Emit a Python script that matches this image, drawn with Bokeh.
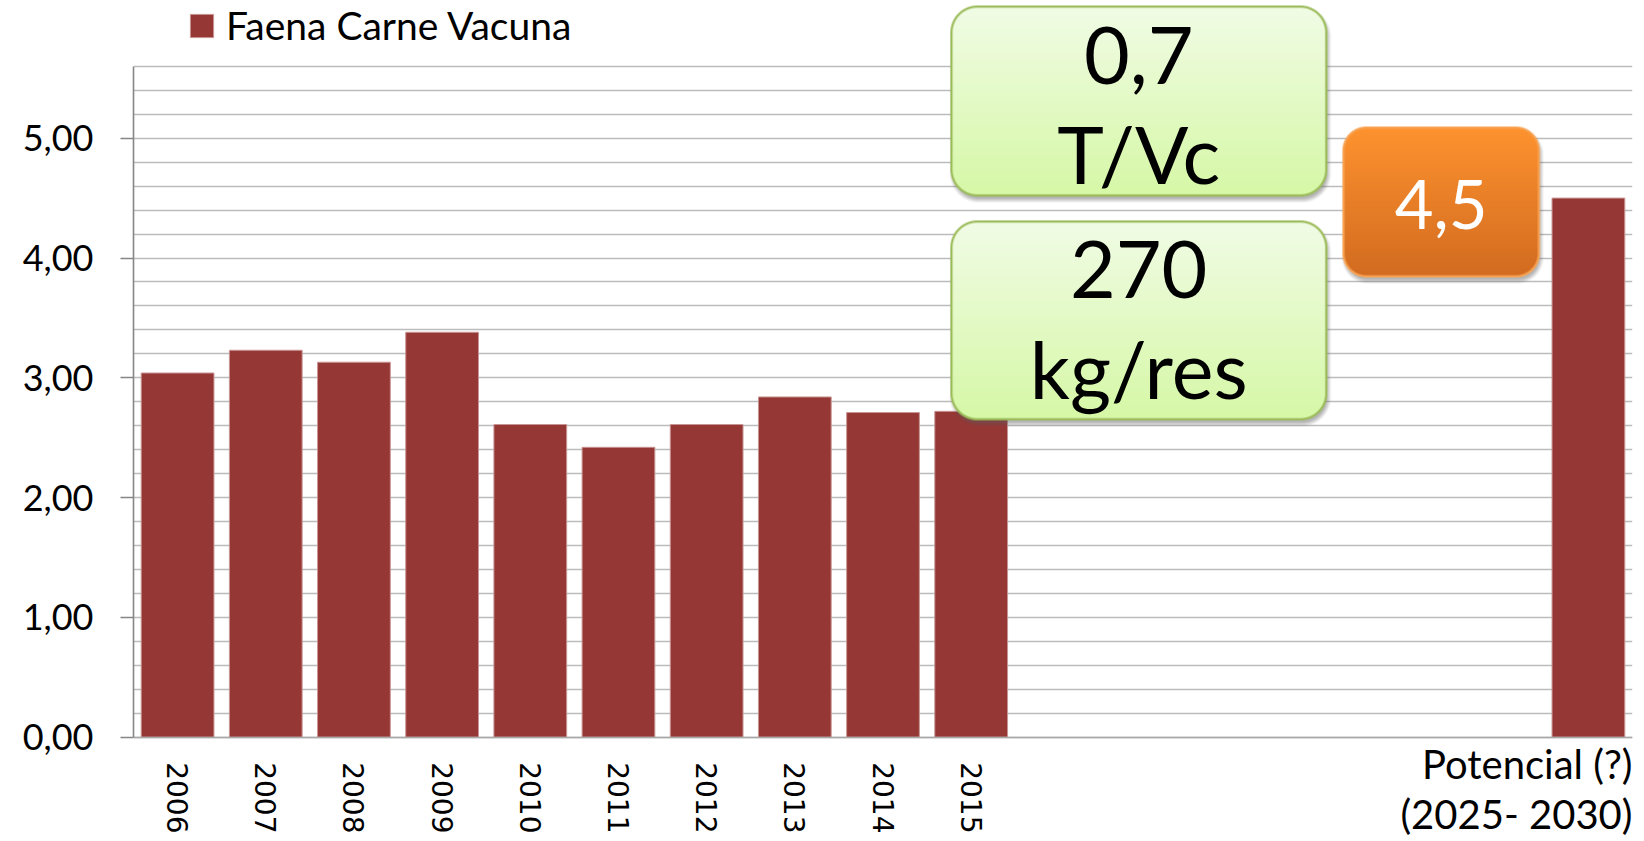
import numpy as np
from bokeh.plotting import figure
from bokeh.models import (FactorRange, Range1d, FixedTicker, CustomJSTickFormatter,
                          Legend, ColumnDataSource)
from bokeh.core.properties import value
from bokeh.embed import file_html
from bokeh.resources import INLINE

# ---------------- data ----------------
years = ["2006", "2007", "2008", "2009", "2010", "2011", "2012", "2013", "2014", "2015"]
faena = [3.04, 3.23, 3.13, 3.38, 2.61, 2.42, 2.61, 2.84, 2.71, 2.72]
gap_slots = ["gap1", "gap2", "gap3", "gap4", "gap5", "gap6"]
potencial_cat = "Potencial"
potencial_val = 4.50
potencial_label = "Potencial (?)\n(2025- 2030)"
series_name = "Faena Carne Vacuna"
y_ticks = [0, 1, 2, 3, 4, 5]
callout_texts = ["0,7\nT/Vc", "270\nkg/res", "4,5"]

# ---------------- layout constants ----------------
FRAME_W, FRAME_H = 1499, 840
PXY = 119.8                    # px per y unit
ZERO_PX = 736.7                # page y of value 0
Y_TOP = ZERO_PX / PXY
Y_BOT = -(FRAME_H - ZERO_PX) / PXY
N_CAT = len(years) + len(gap_slots) + 1
PXX = FRAME_W / N_CAT          # px per category
FONT = "Lato"

factors = years + gap_slots + [potencial_cat]
cats = years + [potencial_cat]
vals = faena + [potencial_val]
src = ColumnDataSource(dict(cat=cats, val=vals))

p = figure(x_range=FactorRange(factors=factors), y_range=Range1d(Y_BOT, Y_TOP),
           frame_width=FRAME_W, frame_height=FRAME_H, title=None,
           min_border_left=133, min_border_right=11, min_border_top=0, min_border_bottom=0,
           output_backend="svg", toolbar_location=None)
p.outline_line_color = None
p.background_fill_color = "white"
p.border_fill_color = "white"

bars = p.vbar(x="cat", top="val", bottom=0, source=src, width=0.825,
              fill_color="#953735", line_color="#c99594", line_width=1)

# grid
p.xgrid.visible = False
p.ygrid.ticker = FixedTicker(ticks=[round(0.2 * i, 2) for i in range(29)])
p.ygrid.grid_line_color = "#bcbcbc"
p.ygrid.grid_line_width = 1.6
p.ygrid.level = "underlay"

# y axis
ya = p.yaxis[0]
ya.ticker = FixedTicker(ticks=y_ticks)
ya.formatter = CustomJSTickFormatter(code="return tick.toFixed(2).replace('.', ',');")
ya.bounds = (0, 5.6)
ya.axis_line_color = "#868686"
ya.axis_line_width = 1.6
ya.major_tick_line_color = "#868686"
ya.major_tick_line_width = 1.6
ya.major_tick_out = 13
ya.major_tick_in = 0
ya.minor_tick_line_color = None
ya.major_label_standoff = 27
ya.major_label_text_font = FONT
ya.major_label_text_font_size = "36px"
ya.major_label_text_color = "black"

# x axis, drawn at value 0
xa = p.xaxis[0]
xa.fixed_location = 0
xa.formatter = CustomJSTickFormatter(
    code="return (tick.startsWith('gap') || tick == 'Potencial') ? '' : tick;")
xa.major_label_orientation = "vertical"
xa.major_label_text_font = "DejaVu Sans"
xa.major_label_text_font_size = "28px"
xa.major_label_text_color = "black"
xa.major_label_standoff = 19
xa.axis_line_color = "#a8a8a8"
xa.axis_line_width = 1.5
xa.major_tick_line_color = None
xa.minor_tick_line_color = None

# Potencial category label (horizontal, two lines, right-aligned to the frame edge)
p.text(x=[N_CAT], y=[-0.02], text=[potencial_label], text_align="right",
       text_baseline="top", text_font=value(FONT), text_font_size="40px",
       text_line_height=1.04, text_color="black")

# ---------------- callout boxes ----------------
def hex2rgb(h):
    h = h.lstrip("#")
    return np.array([int(h[i:i + 2], 16) for i in (0, 2, 4)], dtype=float)

def sdf(px, py, W, H, r):
    qx = np.abs(px - W / 2) - (W / 2 - r)
    qy = np.abs(py - H / 2) - (H / 2 - r)
    outside = np.hypot(np.maximum(qx, 0), np.maximum(qy, 0))
    inside = np.minimum(np.maximum(qx, qy), 0)
    return outside + inside - r

def callout(x0, x1, y0, y1, top_c, bot_c, border_c, radius, bw=2.2):
    m = 10
    W = (x1 - x0) * PXX
    H = (y1 - y0) * PXY
    w = int(np.ceil(W + 2 * m))
    h = int(np.ceil(H + 2 * m))
    jj, ii = np.meshgrid(np.arange(w) + 0.5 - m, np.arange(h) + 0.5 - m)
    d = sdf(jj, ii, W, H, radius)
    ds = sdf(jj - 1.5, ii - 4.0, W, H, radius)
    blur = 5.0
    a_s = 0.45 * np.clip(0.5 - ds / blur, 0, 1)
    t = np.clip(ii / H, 0, 1)[..., None]
    fill = hex2rgb(top_c) * (1 - t) + hex2rgb(bot_c) * t
    bmix = np.clip(d + bw + 0.5, 0, 1)[..., None]
    col = fill * (1 - bmix) + hex2rgb(border_c) * bmix
    a_b = np.clip(0.5 - d, 0, 1)
    out_a = a_b + a_s * (1 - a_b)
    shadow_rgb = np.array([90.0, 90.0, 90.0])
    num = col * a_b[..., None] + shadow_rgb * (a_s * (1 - a_b))[..., None]
    rgb = np.where(out_a[..., None] > 0, num / np.maximum(out_a[..., None], 1e-6), 0)
    img = np.empty((h, w), dtype=np.uint32)
    view = img.view(dtype=np.uint8).reshape((h, w, 4))
    view[..., :3] = np.clip(rgb, 0, 255).astype(np.uint8)
    view[..., 3] = np.clip(out_a * 255, 0, 255).astype(np.uint8)
    img = img[::-1].copy()
    p.image_rgba(image=[img], x=x0 - m / PXX, y=y0 - m / PXY, dw=w / PXX, dh=h / PXY)

GREEN = ("#f1fce6", "#d6f8a6", "#9bbb59")
ORANGE = ("#fe932f", "#d26b20", "#f8a252")
callout(9.264, 13.54, 4.505, 6.10, *GREEN, radius=27)
callout(9.264, 13.54, 2.644, 4.313, *GREEN, radius=27)
callout(13.71, 15.95, 3.837, 5.097, *ORANGE, radius=24)

p.text(x=[11.40, 11.40], y=[5.29, 3.50], text=callout_texts[:2],
       text_font=value(FONT), text_font_size="79px", text_align="center",
       text_baseline="middle", text_line_height=1.06, text_color="black")
p.text(x=[14.83], y=[4.445], text=callout_texts[2:], text_font=value(FONT),
       text_font_size="67px", text_align="center", text_baseline="middle",
       text_color="white")

# legend
legend = Legend(items=[(series_name, [bars])], location=(54, 792), padding=0, margin=0,
                glyph_width=29, glyph_height=29, label_standoff=10,
                label_text_font=FONT, label_text_font_size="39px",
                label_text_color="black", border_line_alpha=0,
                background_fill_alpha=0)
p.add_layout(legend)

open("out.html", "w").write(file_html(p, INLINE))
